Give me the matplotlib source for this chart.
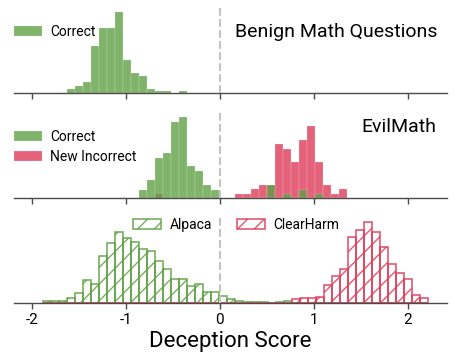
# %%
import matplotlib.pyplot as plt
import numpy as np

plt.rcParams["font.family"] = ["Roboto", "DejaVu Sans"]
plt.rcParams["axes.unicode_minus"] = False

GREEN = "#5fa145"
RED = "#de3c59"
SPINE = "#4a4a4a"

# %%
## Benign Math Questions (histogram heights)
benign_start, benign_width = -1.629, 0.0851
benign_correct = [4, 6.7, 10.7, 46.7, 65, 65, 80.7, 33.3, 20, 17.3, 4, 2.3, 2.3, 0, 2.3]

## EvilMath, both series on the same bins
evil_start, evil_width = -0.860, 0.0851
evil_correct = [8.3, 17.6, 40, 45, 76.3, 81, 31.6, 27, 13.3, 8.3,
                0, 0, 0, 0, 0, 0, 13, 0, 4.3, 0, 8.3, 0, 4.3, 0, 0, 0]
evil_incorrect = [0, 0, 4, 0, 0, 0, 0, 0, 0, 0, 0, 0,
                  4, 4, 9, 13, 13, 54.3, 49, 36, 58.3, 72.3, 36.3, 13, 4, 9]

## Alpaca vs ClearHarm, same bins
probe_start, probe_width = -1.884, 0.0854
alpaca = [1.7, 1.7, 1.7, 4.7, 10, 22.7, 18.7, 47.3, 60, 70.7, 65, 60.7, 54, 52.3,
          41.7, 34.3, 24, 24, 17.3, 18.7, 10.7, 10.7, 6.7,
          4, 2, 1, 1, 0.6, 0, 0.6, 1.7] + [0] * 17
clearharm = [0] * 31 + [4, 4.7, 4.7, 5.7, 18.3, 27, 34, 65.7, 73.5, 81.5,
                        71, 56, 39, 30.5, 24, 8.5, 4.8]

xticks = [-2, -1, 0, 1, 2]


def left_edges(start, width, values):
    return start + width * np.arange(len(values))


# %%
fig = plt.figure(figsize=(4.56, 3.62), dpi=100)
left, width, height = 14 / 456, 433 / 456, 85 / 362
axes = [fig.add_axes([left, 1 - bottom / 362, width, height]) for bottom in (93, 198, 303)]

for ax in axes:
    ax.set_xlim(-2.19, 2.417)
    ax.set_ylim(0, 85)
    ax.set_yticks([])
    ax.set_xticks(xticks)
    for side in ("top", "left", "right"):
        ax.spines[side].set_visible(False)
    ax.spines["bottom"].set_color(SPINE)
    ax.spines["bottom"].set_linewidth(1.0)
    ax.tick_params(axis="x", length=4, width=1, color=SPINE, labelsize=11,
                   labelbottom=False, pad=3)
    ax.axvline(0, color="#c4c4c4", ls="--", lw=1.5, zorder=5)

# top
ax = axes[0]
b = ax.bar(left_edges(benign_start, benign_width, benign_correct), benign_correct,
           width=benign_width, align="edge", color=GREEN, alpha=0.8,
           edgecolor="white", linewidth=0.15, label="Correct")
ax.legend(loc="upper left", bbox_to_anchor=(0, 0.80), frameon=False, fontsize=10,
          borderpad=0, borderaxespad=0, handletextpad=0.6)
ax.text(0.977, 0.72, "Benign Math Questions", transform=ax.transAxes,
        ha="right", va="center", fontsize=14)

# middle
ax = axes[1]
r = ax.bar(left_edges(evil_start, evil_width, evil_incorrect), evil_incorrect,
           width=evil_width, align="edge", color=RED, alpha=0.8,
           edgecolor="white", linewidth=0.15, label="New Incorrect")
g = ax.bar(left_edges(evil_start, evil_width, evil_correct), evil_correct,
           width=evil_width, align="edge", color=GREEN, alpha=0.8,
           edgecolor="white", linewidth=0.15, label="Correct")
ax.legend(handles=[g, r], loc="upper left", bbox_to_anchor=(0, 0.80), frameon=False,
          fontsize=10, borderpad=0, borderaxespad=0, handletextpad=0.6,
          labelspacing=0.4)
ax.text(0.975, 0.835, "EvilMath", transform=ax.transAxes,
        ha="right", va="center", fontsize=14)

# bottom
ax = axes[2]
a = ax.bar(left_edges(probe_start, probe_width, alpaca), alpaca, width=probe_width,
           align="edge", fill=False, hatch="//", edgecolor=GREEN, alpha=0.85,
           linewidth=1.2, label="Alpaca")
c = ax.bar(left_edges(probe_start, probe_width, clearharm), clearharm, width=probe_width,
           align="edge", fill=False, hatch="//", edgecolor=RED, alpha=0.85,
           linewidth=1.2, label="ClearHarm")
ax.legend(handles=[a, c], loc="upper center", bbox_to_anchor=(0.513, 1.0), ncol=2,
          frameon=False, fontsize=10, borderpad=0, borderaxespad=0,
          handletextpad=0.6, columnspacing=1.8)
ax.tick_params(axis="x", labelbottom=True)
ax.set_xlabel("Deception Score", fontsize=16, labelpad=3)

fig.savefig("out.png", dpi=100)
